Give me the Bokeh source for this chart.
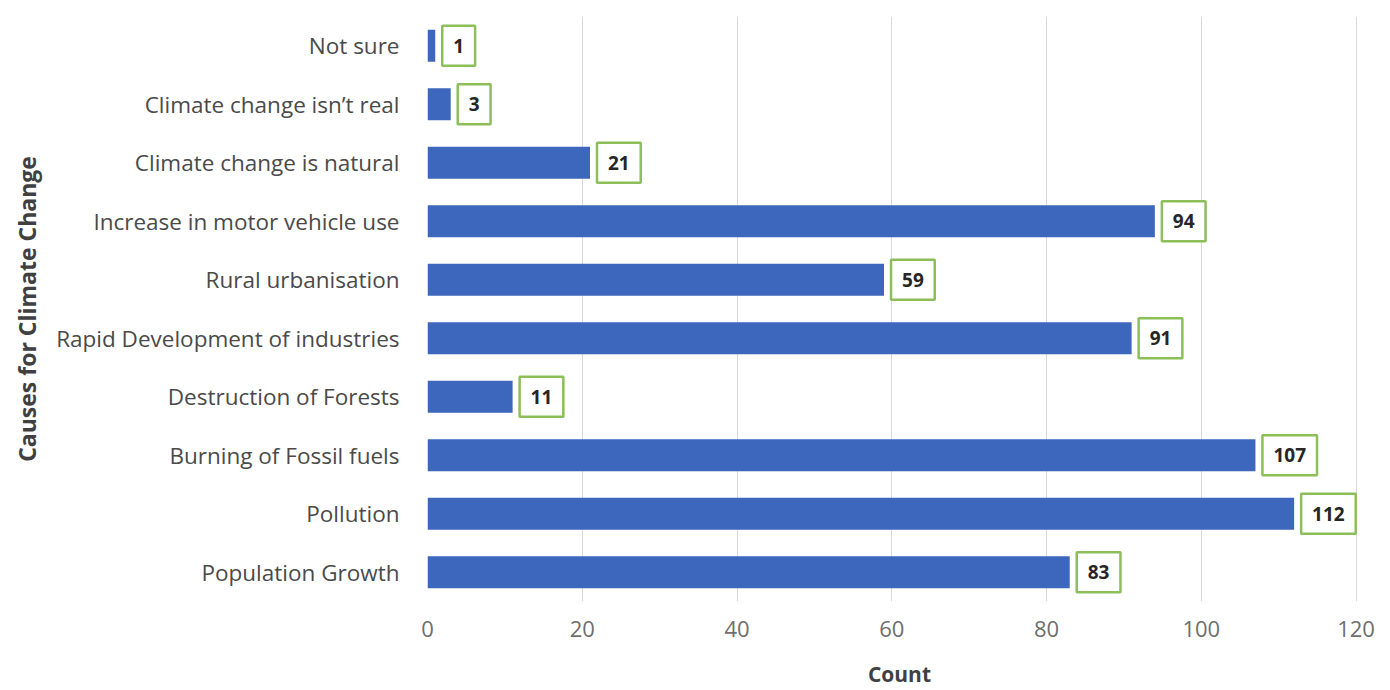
from bokeh.plotting import figure
from bokeh.models import ColumnDataSource, FactorRange, Range1d, FixedTicker
from bokeh.core.properties import value
from bokeh.embed import file_html
from bokeh.resources import INLINE

causes = ["Not sure", "Climate change isn\u2019t real", "Climate change is natural",
          "Increase in motor vehicle use", "Rural urbanisation",
          "Rapid Development of industries", "Destruction of Forests",
          "Burning of Fossil fuels", "Pollution", "Population Growth"]
counts = [1, 3, 21, 94, 59, 91, 11, 107, 112, 83]
x_ticks = [0, 20, 40, 60, 80, 100, 120]

src = ColumnDataSource(dict(cause=causes, count=counts, label=[str(c) for c in counts]))

FONT = "Open Sans"
p = figure(width=1390, height=690, output_backend="svg", toolbar_location=None,
           y_range=FactorRange(*list(reversed(causes))), x_range=Range1d(0, 122),
           min_border_left=427, min_border_right=19, min_border_top=16, min_border_bottom=88)

p.hbar(y="cause", right="count", left=0, height=0.55, source=src,
       fill_color="#3D66BD", line_color=None)

p.text(x="count", y="cause", text="label", source=src, x_offset=7,
       text_align="left", text_baseline="middle", text_font=value(FONT),
       text_font_size="19px", text_font_style="bold", text_color="#262626",
       background_fill_color="white", border_line_color="#8CBF5A", border_line_width=2.5,
       padding=(11, 13))

p.outline_line_color = None
p.background_fill_color = "white"
p.border_fill_color = "white"
p.xgrid.grid_line_color = "#D9D9D9"
p.ygrid.grid_line_color = None
p.xaxis.ticker = FixedTicker(ticks=x_ticks)
for ax in (p.xaxis[0], p.yaxis[0]):
    ax.axis_line_color = None
    ax.major_tick_line_color = None
    ax.minor_tick_line_color = None
    ax.major_label_text_font = FONT
    ax.axis_label_text_font = FONT
    ax.axis_label_text_font_style = "bold"
    ax.axis_label_text_color = "#404040"

p.xaxis.axis_label = "Count"
p.yaxis.axis_label = "Causes for Climate Change"
p.xaxis.axis_label_text_font_size = "21px"
p.yaxis.axis_label_text_font_size = "23px"
p.xaxis.major_label_text_font_size = "22px"
p.xaxis.major_label_text_color = "#6E6E6E"
p.xaxis.major_label_standoff = 13
p.yaxis.major_label_text_font_size = "22.5px"
p.yaxis.major_label_text_color = "#4A4A4A"
p.yaxis.major_label_standoff = 22
p.xaxis.axis_label_standoff = 20
p.yaxis.axis_label_standoff = 10

open("out.html", "w").write(file_html(p, INLINE))
